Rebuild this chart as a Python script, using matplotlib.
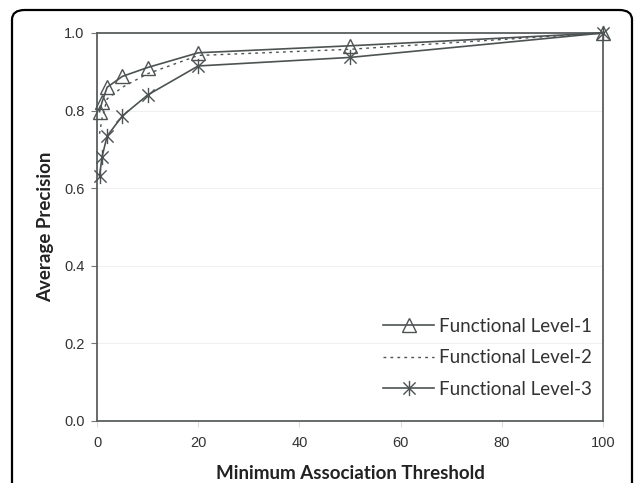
import matplotlib
matplotlib.use("Agg")
import matplotlib.pyplot as plt
from matplotlib.path import Path
from matplotlib.patches import FancyBboxPatch

thresholds = [0.5, 1, 2, 5, 10, 20, 50, 100]
level1 = [0.797, 0.822, 0.860, 0.888, 0.911, 0.949, 0.967, 1.0]
level2 = [0.74, 0.78, 0.83, 0.86, 0.895, 0.942, 0.958, 1.0]
level3 = [0.631, 0.681, 0.734, 0.786, 0.840, 0.915, 0.937, 1.0]
series_labels = ["Functional Level-1", "Functional Level-2", "Functional Level-3"]
y_ticks = [0.0, 0.2, 0.4, 0.6, 0.8, 1.0]
x_ticks = [0, 20, 40, 60, 80, 100]

line_c = "#4d5353"
spine_c = "#5a5f5f"

star = Path([(0, -1), (0, 1), (-0.8, -0.8), (0.8, 0.8), (-0.8, 0.8), (0.8, -0.8)],
            [Path.MOVETO, Path.LINETO, Path.MOVETO, Path.LINETO, Path.MOVETO, Path.LINETO])

fig = plt.figure(figsize=(6.36, 4.83), dpi=100)
ax = fig.add_axes([97/636, 1-420.7/483, (603-97)/636, (420.7-33)/483])

ax.plot(thresholds, level1, color=line_c, lw=1.2, marker="^", ms=10.5, mfc="none",
        mec=line_c, mew=1.0, label=series_labels[0], clip_on=False, zorder=3)
ax.plot(thresholds, level2, color=line_c, lw=1.0, ls=(0, (2, 3)), label=series_labels[1],
        clip_on=False, zorder=3)
ax.plot(thresholds, level3, color=line_c, lw=1.2, marker=star, ms=11,
        mec=line_c, mew=1.0, label=series_labels[2], clip_on=False, zorder=3)

ax.set_xlim(0, 100)
ax.set_ylim(0, 1.0)
ax.set_xticks(x_ticks)
ax.set_yticks(y_ticks)
ax.set_yticklabels([f"{v:.1f}" for v in y_ticks])
ax.grid(axis="y", color="#f0f0f0", lw=0.8)
ax.set_axisbelow(True)
for s in ax.spines.values():
    s.set_color(spine_c)
    s.set_linewidth(1.3)
ax.tick_params(axis="both", labelsize=10.5, colors="#333333", length=4, width=0.8)
ax.tick_params(axis="x", color="#dddddd", pad=7)
ax.tick_params(axis="y", color="#777777", pad=5)
for lab in ax.get_xticklabels() + ax.get_yticklabels():
    lab.set_fontfamily("Liberation Sans")
    lab.set_color("#333333")

ax.set_xlabel("Minimum Association Threshold", fontfamily="Lato", fontweight="bold",
              fontsize=13.5, color="#222222", labelpad=11)
ax.set_ylabel("Average Precision", fontfamily="Lato", fontweight="bold",
              fontsize=13.5, color="#222222", labelpad=7)

leg = ax.legend(loc="lower right", bbox_to_anchor=(1.0, 0.03), frameon=False,
                prop={"family": "Lato", "size": 13.5}, handlelength=2.7,
                labelspacing=0.78, handletextpad=0.25, borderaxespad=0.2)
for t in leg.get_texts():
    t.set_color("#333333")

box = FancyBboxPatch((12/636, -0.2), (632-12)/636, (1-10/483) + 0.2,
                     boxstyle="round,pad=0,rounding_size=0.02",
                     transform=fig.transFigure, fill=False, ec="black", lw=1.6,
                     clip_on=False)
fig.patches.append(box)

fig.savefig("out.png", dpi=100)
